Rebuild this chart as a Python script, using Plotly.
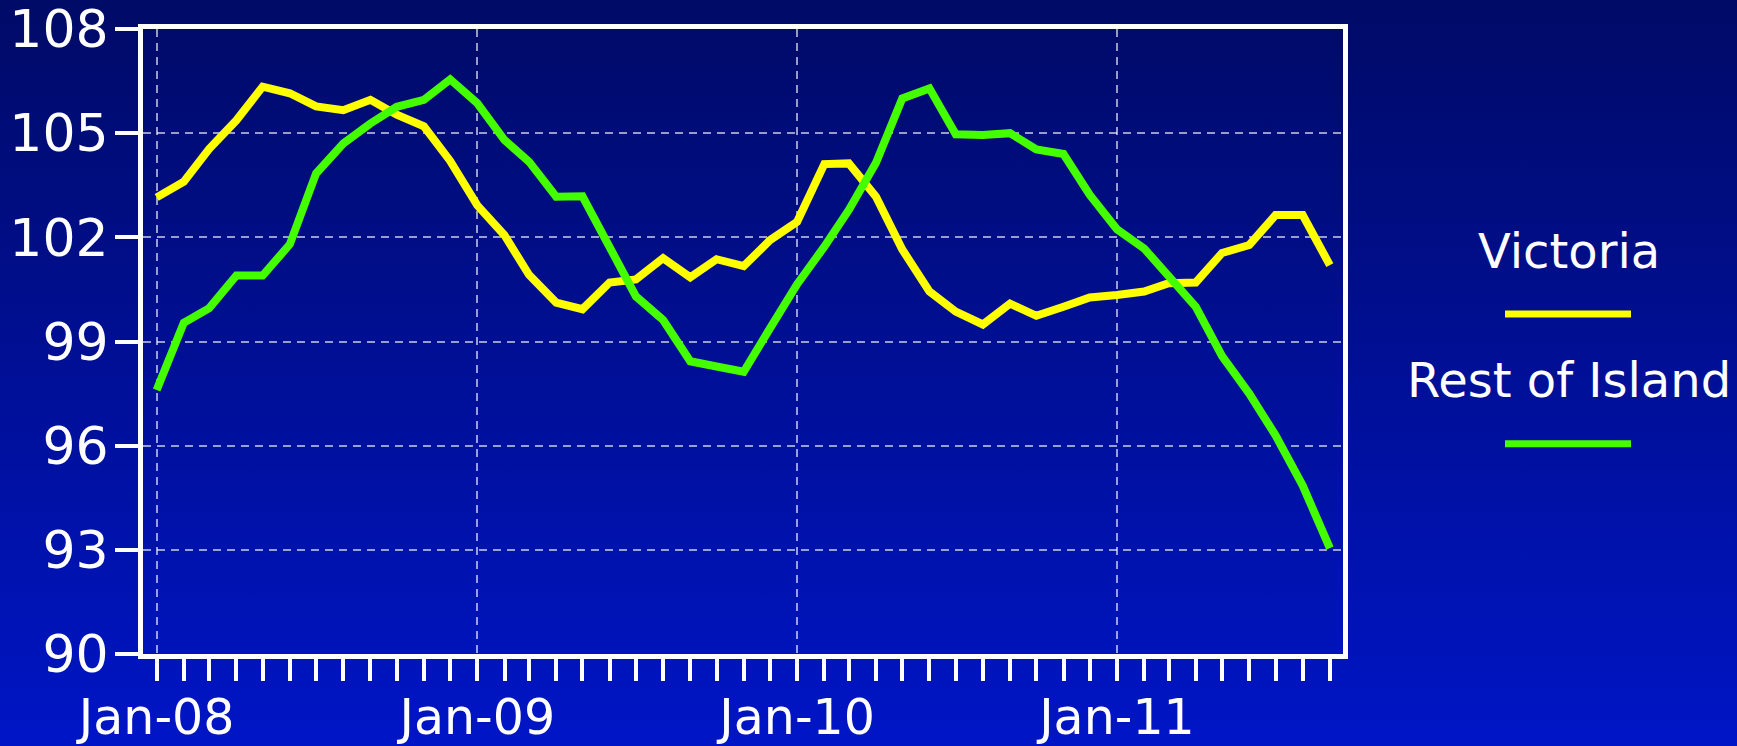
import base64
import plotly.graph_objects as go

# ---- data ----
months = [f"{y}-{m:02d}-01" for y in range(2008, 2012) for m in range(1, 13)][:45]
victoria = [103.15, 103.6, 104.55, 105.37, 106.34, 106.15, 105.77, 105.66, 105.96, 105.53,
            105.2, 104.2, 102.92, 102.06, 100.92, 100.12, 99.93, 100.7, 100.79, 101.4,
            100.85, 101.37, 101.17, 101.92, 102.45, 104.11, 104.13, 103.17, 101.65, 100.44,
            99.86, 99.49, 100.09, 99.74, 100.0, 100.27, 100.34, 100.44, 100.68, 100.7,
            101.55, 101.78, 102.64, 102.64, 101.2]
rest_of_island = [97.6, 99.54, 99.96, 100.9, 100.9, 101.8, 103.84, 104.7, 105.28, 105.76,
                  105.96, 106.55, 105.86, 104.8, 104.18, 103.17, 103.18, 101.72, 100.3, 99.62,
                  98.43, 98.28, 98.13, 99.38, 100.65, 101.73, 102.79, 104.15, 106.0, 106.29,
                  104.97, 104.95, 105.0, 104.53, 104.4, 103.22, 102.23, 101.68, 100.87, 100.0,
                  98.58, 97.5, 96.3, 94.85, 93.05]
series_names = ["Victoria", "Rest of Island"]
series_colors = ["#ffff00", "#44ff00"]
y_ticks = [90, 93, 96, 99, 102, 105, 108]

W, H = 1737, 746
ML, MR, MT, MB = 143, 394, 29, 92
PW, PH = W - ML - MR, H - MT - MB

def px(xp):
    return (xp - ML) / PW

def py(yp):
    return (H - MB - yp) / PH

FONT = "Verdana, DejaVu Sans, sans-serif"

fig = go.Figure()
for name, vals, col in zip(series_names, [victoria, rest_of_island], series_colors):
    fig.add_trace(go.Scatter(x=months, y=vals, mode="lines", name=name,
                             line=dict(color=col, width=8), showlegend=False))

# gradient background as svg image
svg = ('<svg xmlns="http://www.w3.org/2000/svg" width="100" height="100" preserveAspectRatio="none">'
       '<defs><linearGradient id="g" x1="0" y1="0" x2="0" y2="1">'
       '<stop offset="0" stop-color="#000a66"/><stop offset="1" stop-color="#0015c6"/>'
       '</linearGradient></defs><rect width="100" height="100" fill="url(#g)"/></svg>')
src = "data:image/svg+xml;base64," + base64.b64encode(svg.encode()).decode()

fig.add_layout_image(dict(source=src, xref="paper", yref="paper", x=px(-2), y=py(-2),
                          sizex=(W + 4) / PW, sizey=(H + 4) / PH, sizing="stretch",
                          xanchor="left", yanchor="top", layer="below"))

# custom legend
legend_y_text = [251, 380]
legend_y_line = [314, 443.7]
for name, col, yt, yl in zip(series_names, series_colors, legend_y_text, legend_y_line):
    fig.add_annotation(text=name, xref="paper", yref="paper", x=px(1569), y=py(yt),
                       xanchor="center", yanchor="middle", showarrow=False,
                       font=dict(family=FONT, size=48, color="white"))
    fig.add_shape(type="line", xref="paper", yref="paper", x0=px(1505), x1=px(1631),
                  y0=py(yl), y1=py(yl), line=dict(color=col, width=7))

fig.update_layout(
    width=W, height=H,
    margin=dict(l=ML, r=MR, t=MT, b=MB, pad=0),
    paper_bgcolor="#000f96",
    plot_bgcolor="rgba(0,0,0,0)",
    font=dict(family=FONT, size=52, color="white"),
    showlegend=False,
)
fig.update_xaxes(
    type="date", range=["2007-12-16 10:00", "2011-09-16"],
    tick0="2008-01-01", dtick="M12", tickformat="%b-%y",
    ticks="outside", ticklen=22, tickwidth=4, tickcolor="white",
    showgrid=True, gridcolor="rgba(255,255,255,0.6)", gridwidth=1.5, griddash="8px,6px",
    showline=True, linecolor="white", linewidth=5, mirror=True,
    minor=dict(dtick="M1", ticks="outside", ticklen=22, tickwidth=4, tickcolor="white", showgrid=False),
    tickfont=dict(family=FONT, size=49, color="white"),
    ticklabelstandoff=-6, ticklabeloverflow="allow", automargin=False,
    zeroline=False, fixedrange=True,
)
fig.update_yaxes(
    range=[90, 108], tickvals=y_ticks,
    ticks="outside", ticklen=23, tickwidth=4, tickcolor="white",
    showgrid=True, gridcolor="rgba(255,255,255,0.6)", gridwidth=1.5, griddash="8px,6px",
    showline=True, linecolor="white", linewidth=5, mirror=True,
    tickfont=dict(family=FONT, size=52, color="white"),
    ticklabelstandoff=-4, ticklabeloverflow="allow", automargin=False,
    zeroline=False, fixedrange=True,
)

fig.write_html("out.html", config={"displayModeBar": False},
               post_script="document.body.style.margin='0';document.body.style.background='#000a66';")
